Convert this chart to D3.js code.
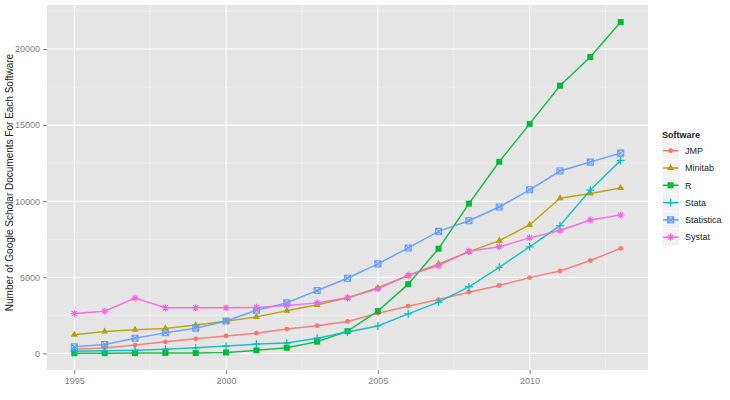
<!DOCTYPE html>
<html><head><meta charset="utf-8">
<script src="https://cdn.jsdelivr.net/npm/d3@7"></script>
<style>body{margin:0;background:#fff}svg{display:block;font-family:"Liberation Sans",Arial,sans-serif}</style>
</head><body><svg id="c" width="730" height="400"></svg>
<script>
const years = [1995,1996,1997,1998,1999,2000,2001,2002,2003,2004,2005,2006,2007,2008,2009,2010,2011,2012,2013];
const seriesNames = ["JMP","Minitab","R","Stata","Statistica","Systat"];
const jmp        = [280,350,545,760,960,1150,1330,1600,1820,2100,2640,3100,3540,4020,4460,4980,5420,6100,6900];
const minitab    = [1225,1440,1550,1640,1860,2120,2400,2800,3190,3650,4310,5110,5880,6670,7410,8440,10190,10510,10870];
const rSoft      = [10,15,20,30,25,60,200,370,770,1460,2780,4550,6880,9840,12590,15080,17590,19470,21770];
const stata      = [150,170,200,280,370,480,610,680,1000,1400,1800,2600,3370,4370,5660,7000,8390,10730,12680];
const statistica = [430,590,1000,1360,1660,2130,2840,3320,4130,4940,5880,6930,8020,8720,9620,10750,11980,12570,13160];
const systat     = [2620,2770,3630,3000,3000,3000,3020,3150,3320,3650,4240,5130,5770,6710,7000,7590,8070,8770,9090];
const xTicks = [1995,2000,2005,2010];
const yTicks = [0,5000,10000,15000,20000];
const colors = ["#F8766D","#B79F00","#00BA38","#00BFC4","#619CFF","#F564E3"];
const yTitle = "Number of Google Scholar Documents For Each Software";
const legendTitle = "Software";

const values = [jmp,minitab,rSoft,stata,statistica,systat];
const series = seriesNames.map((n,i)=>({name:n,color:colors[i],idx:i,pts:years.map((y,j)=>({x:y,y:values[i][j]}))}));

const svg = d3.select("#c");
const L=47,R=648,T=5,B=370;
const x = d3.scaleLinear().domain([1994.1,2013.9]).range([L,R]);
const y = d3.scaleLinear().domain([-1090,22890]).range([B,T]);

svg.append("rect").attr("x",L).attr("y",T).attr("width",R-L).attr("height",B-T).attr("fill","#e5e5e5");
const g = svg.append("g");
// minor grid
[1997.5,2002.5,2007.5,2012.5].forEach(v=>g.append("line").attr("x1",x(v)).attr("x2",x(v)).attr("y1",T).attr("y2",B).attr("stroke","#f2f2f2").attr("stroke-width",0.6));
[2500,7500,12500,17500,22500].forEach(v=>g.append("line").attr("x1",L).attr("x2",R).attr("y1",y(v)).attr("y2",y(v)).attr("stroke","#f2f2f2").attr("stroke-width",0.6));
// major grid
xTicks.forEach(v=>g.append("line").attr("x1",x(v)).attr("x2",x(v)).attr("y1",T).attr("y2",B).attr("stroke","#fff").attr("stroke-width",1.1));
yTicks.forEach(v=>g.append("line").attr("x1",L).attr("x2",R).attr("y1",y(v)).attr("y2",y(v)).attr("stroke","#fff").attr("stroke-width",1.1));

// axes
const xa = svg.append("g").attr("transform",`translate(0,${B})`).call(d3.axisBottom(x).tickValues(xTicks).tickFormat(d3.format("d")).tickSize(4).tickPadding(4));
const ya = svg.append("g").attr("transform",`translate(${L},0)`).call(d3.axisLeft(y).tickValues(yTicks).tickFormat(d3.format("d")).tickSize(4).tickPadding(3));
[xa,ya].forEach(a=>{a.select(".domain").remove();a.selectAll("line").attr("stroke","#7f7f7f");a.selectAll("text").attr("fill","#7f7f7f").style("font-size","9px");});

svg.append("text").attr("transform",`translate(13,${(T+B)/2-5}) rotate(-90)`).attr("text-anchor","middle").style("font-size","10px").attr("fill","#222").text(yTitle);

// shapes
function marker(sel, idx, color, s){
  const r=s;
  if(idx===0){sel.append("circle").attr("r",r*0.8).attr("fill",color);}
  else if(idx===1){sel.append("path").attr("d",d3.symbol(d3.symbolTriangle,r*r*2.4)()).attr("fill",color);}
  else if(idx===2){sel.append("rect").attr("x",-r).attr("y",-r).attr("width",2*r).attr("height",2*r).attr("fill",color);}
  else if(idx===3){sel.append("path").attr("d",`M${-r*1.3},0H${r*1.3}M0,${-r*1.3}V${r*1.3}`).attr("stroke",color).attr("stroke-width",1.2).attr("fill","none");}
  else if(idx===4){sel.append("path").attr("d",`M${-r},${-r}H${r}V${r}H${-r}ZM${-r},${-r}L${r},${r}M${r},${-r}L${-r},${r}`).attr("stroke",color).attr("stroke-width",1.1).attr("fill","none");}
  else {const a=r*1.2,d=a*0.7;sel.append("path").attr("d",`M${-a},0H${a}M0,${-a}V${a}M${-d},${-d}L${d},${d}M${d},${-d}L${-d},${d}`).attr("stroke",color).attr("stroke-width",1.1).attr("fill","none");}
}

const line = d3.line().x(d=>x(d.x)).y(d=>y(d.y));
const sg = svg.append("g");
series.forEach(s=>{
  sg.append("path").datum(s.pts).attr("d",line).attr("fill","none").attr("stroke",s.color).attr("stroke-width",1.5).attr("stroke-opacity",0.9);
  s.pts.forEach(p=>{const m=sg.append("g").attr("transform",`translate(${x(p.x)},${y(p.y)})`);marker(m,s.idx,s.color,3);});
});

// legend
const lg = svg.append("g");
lg.append("text").attr("x",662).attr("y",138).style("font-size","9px").style("font-weight","bold").attr("fill","#222").text(legendTitle);
series.forEach((s,i)=>{
  const cy = 150.7 + i*17.3;
  lg.append("rect").attr("x",662).attr("y",cy-8.6).attr("width",17.3).attr("height",17.3).attr("fill","#f2f2f2").attr("stroke","#fff").attr("stroke-width",0.6);
  lg.append("line").attr("x1",663).attr("x2",678.5).attr("y1",cy).attr("y2",cy).attr("stroke",s.color).attr("stroke-width",1.5);
  const m=lg.append("g").attr("transform",`translate(670.6,${cy})`);marker(m,s.idx,s.color,3);
  lg.append("text").attr("x",685).attr("y",cy+3.2).style("font-size","9px").attr("fill","#222").text(s.name);
});
</script></body></html>
